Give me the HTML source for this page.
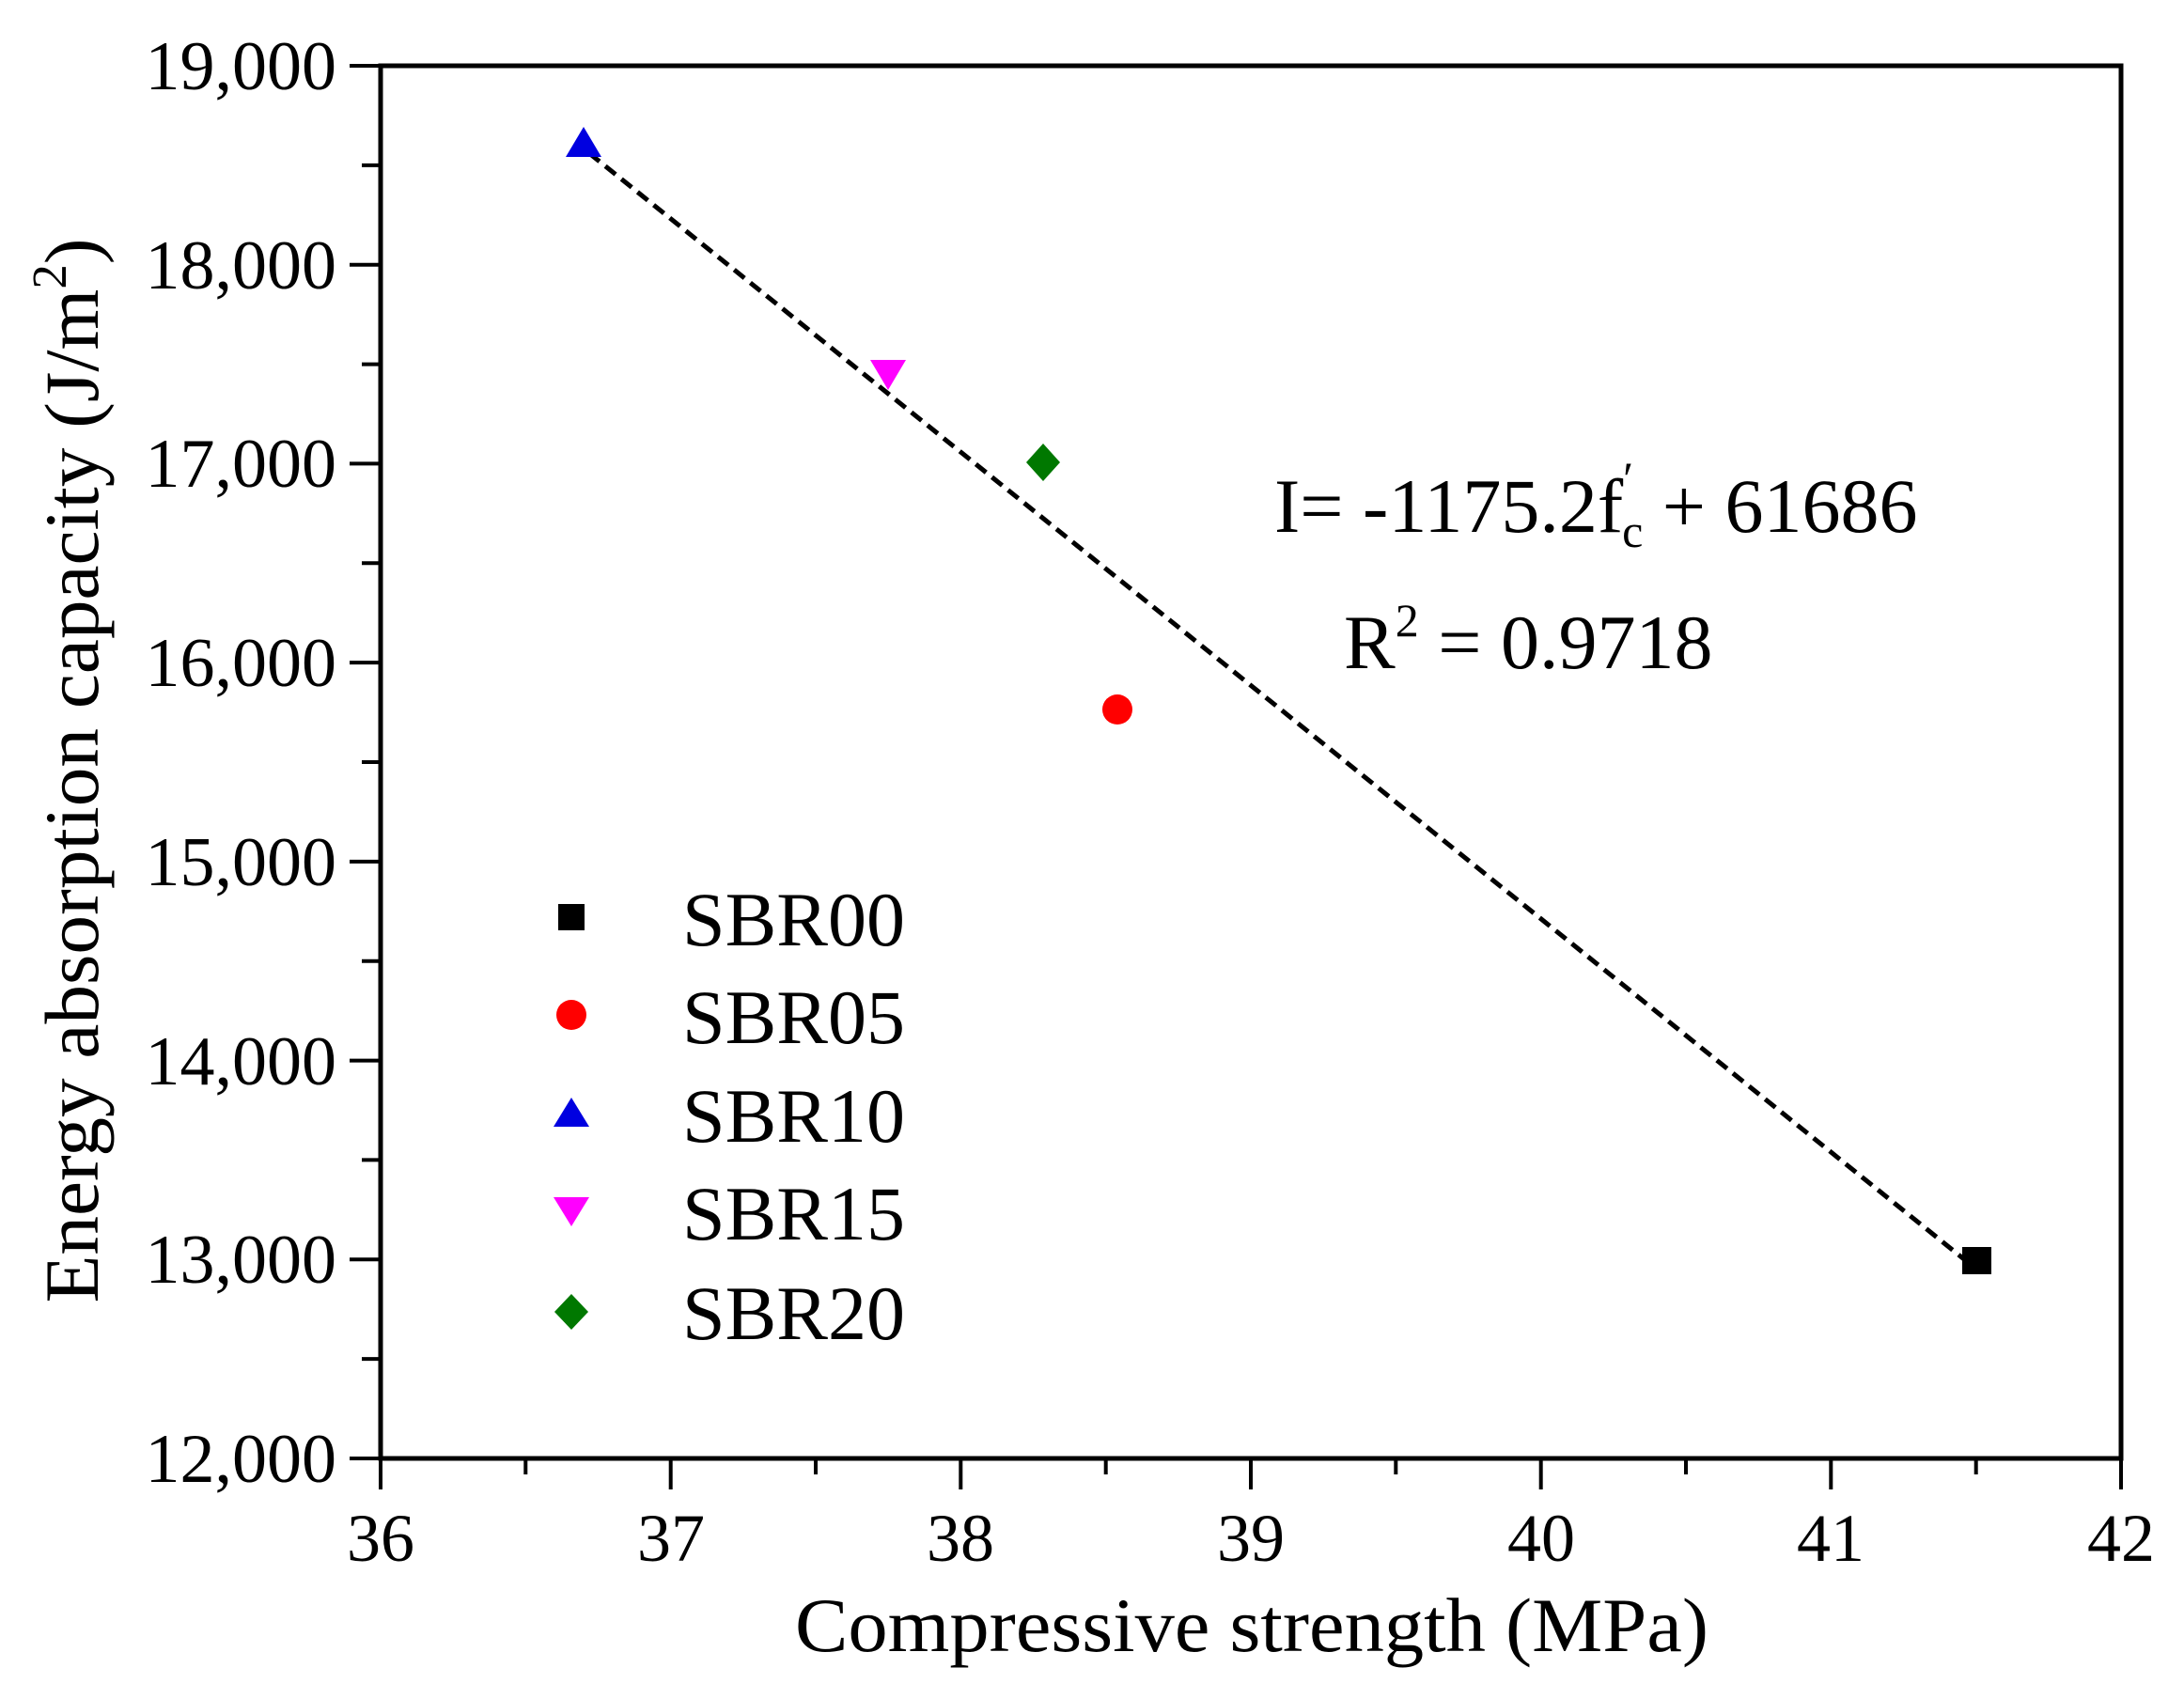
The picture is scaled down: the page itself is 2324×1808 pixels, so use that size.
<!DOCTYPE html>
<html><head><style>html,body{margin:0;padding:0;background:#fff}svg{display:block}</style></head>
<body>
<svg width="2324" height="1808" viewBox="0 0 2324 1808" xmlns="http://www.w3.org/2000/svg" font-family="Liberation Serif, serif">
<rect width="2324" height="1808" fill="#fff"/>
<rect x="405" y="70" width="1852" height="1482" fill="none" stroke="#000" stroke-width="5"/>
<g stroke="#000" stroke-width="4">
<line x1="372" y1="70" x2="405" y2="70"/><line x1="372" y1="281.7" x2="405" y2="281.7"/><line x1="372" y1="493.4" x2="405" y2="493.4"/><line x1="372" y1="705.1" x2="405" y2="705.1"/><line x1="372" y1="916.9" x2="405" y2="916.9"/><line x1="372" y1="1128.6" x2="405" y2="1128.6"/><line x1="372" y1="1340.3" x2="405" y2="1340.3"/><line x1="372" y1="1552" x2="405" y2="1552"/>
<line x1="385" y1="175.9" x2="405" y2="175.9"/><line x1="385" y1="387.6" x2="405" y2="387.6"/><line x1="385" y1="599.3" x2="405" y2="599.3"/><line x1="385" y1="811" x2="405" y2="811"/><line x1="385" y1="1022.7" x2="405" y2="1022.7"/><line x1="385" y1="1234.4" x2="405" y2="1234.4"/><line x1="385" y1="1446.1" x2="405" y2="1446.1"/>
<line x1="405" y1="1552" x2="405" y2="1585"/><line x1="713.7" y1="1552" x2="713.7" y2="1585"/><line x1="1022.3" y1="1552" x2="1022.3" y2="1585"/><line x1="1331" y1="1552" x2="1331" y2="1585"/><line x1="1639.7" y1="1552" x2="1639.7" y2="1585"/><line x1="1948.3" y1="1552" x2="1948.3" y2="1585"/><line x1="2257" y1="1552" x2="2257" y2="1585"/>
<line x1="559.3" y1="1552" x2="559.3" y2="1569"/><line x1="868" y1="1552" x2="868" y2="1569"/><line x1="1176.7" y1="1552" x2="1176.7" y2="1569"/><line x1="1485.3" y1="1552" x2="1485.3" y2="1569"/><line x1="1794" y1="1552" x2="1794" y2="1569"/><line x1="2102.7" y1="1552" x2="2102.7" y2="1569"/>
</g>
<g font-size="74" text-anchor="end" fill="#000">
<text x="358" y="95">19,000</text><text x="358" y="307">18,000</text><text x="358" y="518">17,000</text><text x="358" y="730">16,000</text><text x="358" y="942">15,000</text><text x="358" y="1154">14,000</text><text x="358" y="1365">13,000</text><text x="358" y="1577">12,000</text>
</g>
<g font-size="72" text-anchor="middle" fill="#000">
<text x="405" y="1661">36</text><text x="714" y="1661">37</text><text x="1022" y="1661">38</text><text x="1331" y="1661">39</text><text x="1640" y="1661">40</text><text x="1948" y="1661">41</text><text x="2257" y="1661">42</text>
</g>
<text x="1332" y="1757" font-size="82" text-anchor="middle" textLength="972" lengthAdjust="spacingAndGlyphs">Compressive strength (MPa)</text>
<text transform="translate(104,820) rotate(-90)" font-size="82" text-anchor="middle" textLength="1133" lengthAdjust="spacingAndGlyphs">Energy absorption capacity (J/m<tspan font-size="52" dy="-34">2</tspan><tspan dy="34">)</tspan></text>
<line x1="627" y1="163" x2="2090" y2="1340" stroke="#000" stroke-width="5" stroke-dasharray="14,8"/>
<polygon points="621,135 640,167 602,167" fill="#0000e0"/>
<polygon points="926,383 964,383 945,415" fill="#ff00ff"/>
<polygon points="1110,472 1128,492 1110,512 1092,492" fill="#007800"/>
<circle cx="1189" cy="755" r="16" fill="#ff0000"/>
<rect x="2088" y="1327" width="31" height="29" fill="#000"/>
<rect x="594" y="962" width="28" height="28" fill="#000"/>
<circle cx="608" cy="1080" r="16" fill="#ff0000"/>
<polygon points="608,1168 627,1199 589,1199" fill="#0000e0"/>
<polygon points="589,1274 627,1274 608,1305" fill="#ff00ff"/>
<polygon points="608,1377 626,1396 608,1415 590,1396" fill="#007800"/>
<g font-size="82" fill="#000">
<text x="726" y="1006">SBR00</text><text x="726" y="1110">SBR05</text><text x="726" y="1215">SBR10</text><text x="726" y="1319">SBR15</text><text x="726" y="1425">SBR20</text>
<text x="1356" y="566">I= -1175.2f<tspan font-size="50" dy="-40">&#8242;</tspan><tspan font-size="50" dx="-12" dy="56">c</tspan><tspan dy="-16"> + 61686</tspan></text>
<text x="1430" y="711">R<tspan font-size="50" dy="-34">2</tspan><tspan dy="34"> = 0.9718</tspan></text>
</g>
</svg>
</body></html>
